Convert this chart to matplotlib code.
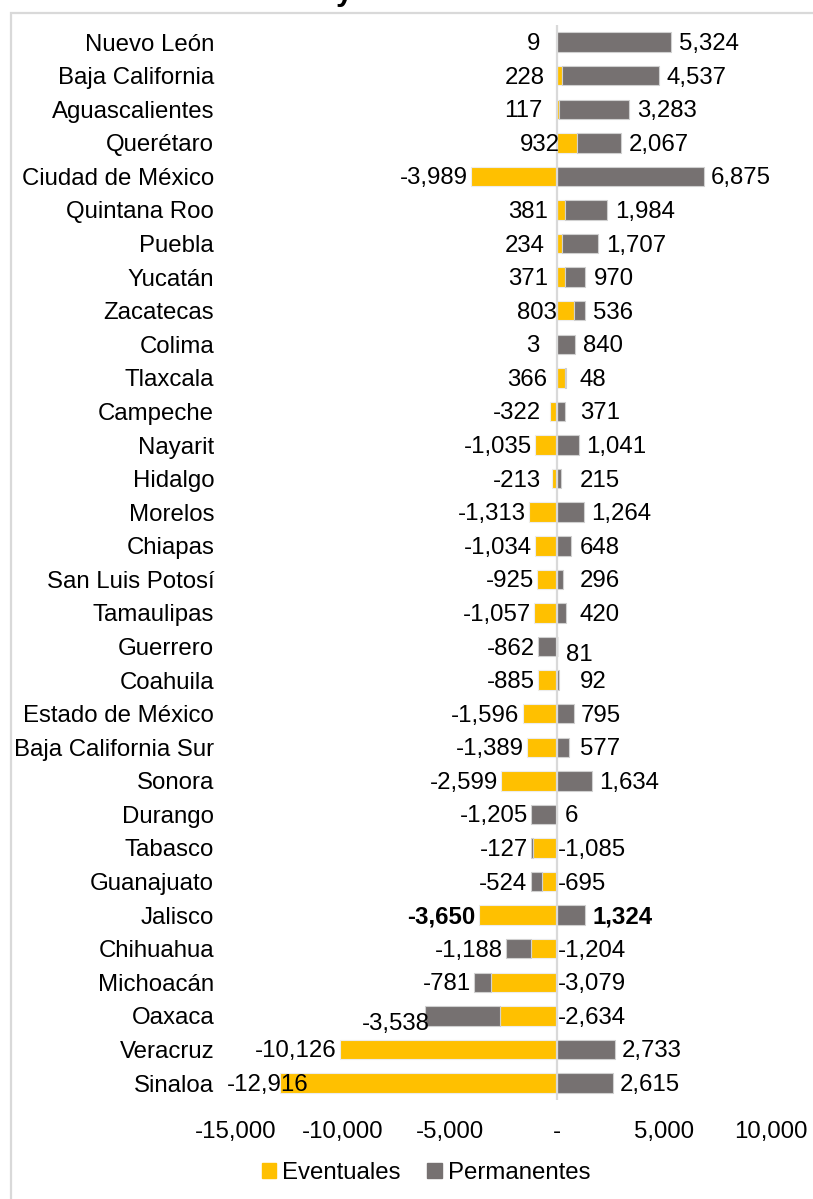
import matplotlib
matplotlib.use('Agg')
import matplotlib.pyplot as plt
from matplotlib.patches import Rectangle, Patch
from matplotlib.ticker import FuncFormatter

plt.rcParams['font.family'] = ['Liberation Sans', 'DejaVu Sans']

# datos por entidad (orden de arriba hacia abajo)
estados = ['Nuevo León', 'Baja California', 'Aguascalientes', 'Querétaro',
           'Ciudad de México', 'Quintana Roo', 'Puebla', 'Yucatán', 'Zacatecas',
           'Colima', 'Tlaxcala', 'Campeche', 'Nayarit', 'Hidalgo', 'Morelos',
           'Chiapas', 'San Luis Potosí', 'Tamaulipas', 'Guerrero', 'Coahuila',
           'Estado de México', 'Baja California Sur', 'Sonora', 'Durango',
           'Tabasco', 'Guanajuato', 'Jalisco', 'Chihuahua', 'Michoacán',
           'Oaxaca', 'Veracruz', 'Sinaloa']
eventuales = [9, 228, 117, 932, -3989, 381, 234, 371, 803, 3, 366, -322,
              -1035, -213, -1313, -1034, -925, -1057, 81, -885, -1596, -1389,
              -2599, 6, -1085, -695, -3650, -1204, -3079, -2634, -10126, -12916]
permanentes = [5324, 4537, 3283, 2067, 6875, 1984, 1707, 970, 536, 840, 48,
               371, 1041, 215, 1264, 648, 296, 420, -862, 92, 795, 577, 1634,
               -1205, -127, -524, 1324, -1188, -781, -3538, 2733, 2615]
destacado = 'Jalisco'
ticks = [-15000, -10000, -5000, 0, 5000, 10000]

AMARILLO = '#FFC000'
GRIS = '#767171'
FS = 17.3

fig = plt.figure(figsize=(8.13, 11.99), dpi=100)
ax = fig.add_axes([0.2899, 0.0827, 0.6581, 0.8962])

y = list(range(len(estados)))
# permanentes se apilan sobre eventuales solo si tienen el mismo signo
base_p = [e if (e >= 0) == (p >= 0) else 0 for e, p in zip(eventuales, permanentes)]

ax.barh(y, eventuales, height=0.58, color=AMARILLO, edgecolor='#ececec',
        linewidth=0.8, zorder=2)
ax.barh(y, permanentes, left=base_p, height=0.58, color=GRIS,
        edgecolor='#d0d0d0', linewidth=0.8, zorder=2)
ax.axvline(0, color='#d9d9d9', lw=1.6, zorder=3)

ax.set_xlim(-15000, 10000)
ax.set_ylim(len(estados) - 0.5, -0.5)
ax.set_yticks(y)
ax.set_yticklabels(estados, fontsize=FS)
ax.set_xticks(ticks)
ax.xaxis.set_major_formatter(FuncFormatter(lambda v, _: '-' if v == 0 else f'{v:,.0f}'))
ax.tick_params(axis='x', length=0, pad=15, labelsize=FS)
ax.tick_params(axis='y', length=0, pad=15.5)
for s in ax.spines.values():
    s.set_visible(False)

ppu = ax.bbox.width / 25000.0          # pixeles por unidad
ppr = ax.bbox.height / len(estados)    # pixeles por fila


def px(n):
    return n / ppu


# ajustes manuales de algunas etiquetas (px: dx, dy hacia abajo)
ajustes = {('Oaxaca', 'izq'): (8, 6), ('Guerrero', 'der'): (0, 6)}

etiquetas = []
for i, (e, p) in enumerate(zip(eventuales, permanentes)):
    peso = 'bold' if estados[i] == destacado else 'normal'
    if e >= 0 and p >= 0:
        t_izq, x_izq = e, e - px(17)
        t_der, x_der = p, max(e + p + px(8), px(23))
    elif e < 0 and p >= 0:
        t_izq, x_izq = e, min(e - px(3), -px(16))
        t_der, x_der = p, max(p + px(7), px(23))
    elif e >= 0 and p < 0:
        t_izq, x_izq = p, min(p - px(3), -px(16))
        t_der, x_der = e, e + px(8)
    else:
        t_izq, x_izq = p, e + p - px(3)
        t_der, x_der = e, px(1)
    for lado, val, xx, ha in (('izq', t_izq, x_izq, 'right'), ('der', t_der, x_der, 'left')):
        dx, dy = ajustes.get((estados[i], lado), (0, 0))
        t = ax.text(xx + px(dx), i + (dy + 2) / ppr, f'{val:,.0f}', ha=ha, va='center',
                    fontsize=FS, fontweight=peso, zorder=4, clip_on=False)
        if lado == 'izq':
            etiquetas.append(t)

# las etiquetas que no caben a la izquierda se quedan dentro del area
fig.canvas.draw()
for t in etiquetas:
    bb = t.get_window_extent()
    if bb.x0 < ax.bbox.x0 - 9:
        t.set_ha('left')
        t.set_x(-15000 - px(9))

handles = [Patch(color=AMARILLO), Patch(color=GRIS)]
fig.legend(handles, ['Eventuales', 'Permanentes'], loc='center',
           bbox_to_anchor=(0.524, 0.022), ncol=2, frameon=False, fontsize=FS,
           handlelength=0.6, handleheight=0.6, handletextpad=0.25,
           columnspacing=1.1)

# marco del grafico (recortado a la derecha y abajo)
fig.add_artist(Rectangle((10.5 / 813, -0.1), 1.0, 1 - 13 / 1199 + 0.1,
                         transform=fig.transFigure, fill=False,
                         edgecolor='#d9d9d9', lw=1.6))
# resto del titulo, cortado en el borde superior como en el original
fig.text(336 / 813, 1.0, 'y', fontsize=22, fontweight='bold', va='baseline')

fig.savefig('out.png', dpi=100)
